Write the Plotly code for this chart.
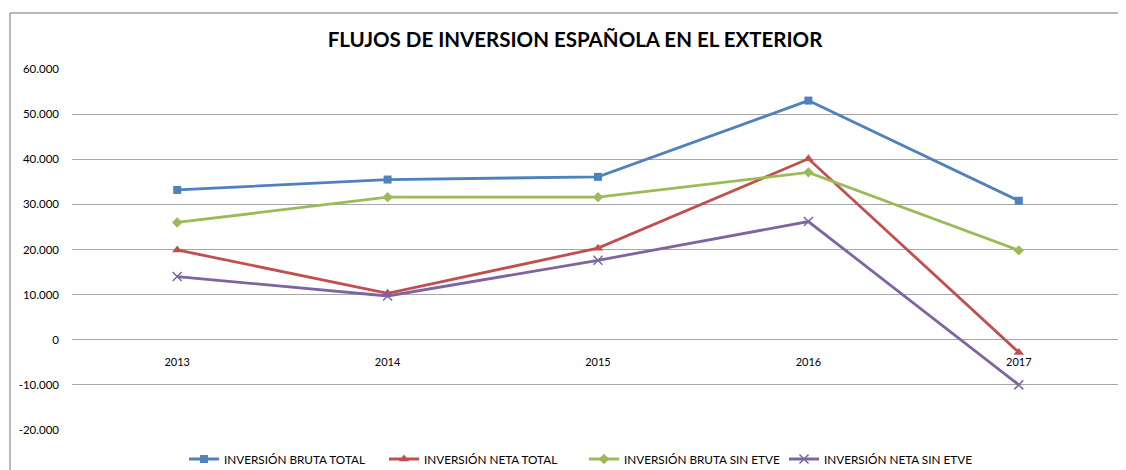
import plotly.graph_objects as go

years = ["2013", "2014", "2015", "2016", "2017"]
bruta_total = [33200, 35500, 36100, 53000, 30800]
neta_total = [19900, 10300, 20300, 40100, -2800]
bruta_sin_etve = [26000, 31600, 31600, 37100, 19800]
neta_sin_etve = [14000, 9700, 17600, 26200, -10000]

series_names = ["INVERSIÓN BRUTA TOTAL", "INVERSIÓN NETA TOTAL",
                "INVERSIÓN BRUTA SIN ETVE", "INVERSIÓN NETA SIN ETVE"]
y_tick_vals = [-20000, -10000, 0, 10000, 20000, 30000, 40000, 50000, 60000]
y_tick_text = ["-20.000", "-10.000", "0", "10.000", "20.000", "30.000",
               "40.000", "50.000", "60.000"]
title_text = "FLUJOS DE INVERSION ESPAÑOLA EN EL EXTERIOR"

colors = ["#4F81BD", "#C0504D", "#9BBB59", "#8064A2"]
symbols = ["square", "triangle-up", "diamond", "x-thin"]
sizes = [8, 9, 8, 9]
data = [bruta_total, neta_total, bruta_sin_etve, neta_sin_etve]

FONT = "Lato"
W, H = 1118, 462  # page body has an 8px margin
L, R, T, B = 64, 2, 61, 40
PW, PH = W - L - R, H - T - B

fig = go.Figure()
for name, vals, c, s, sz in zip(series_names, data, colors, symbols, sizes):
    fig.add_trace(go.Scatter(
        x=years, y=vals, name=name, mode="lines+markers",
        line=dict(color=c, width=2.8),
        marker=dict(symbol=s, size=sz, color=c,
                    line=dict(color=c, width=1.5 if s == "x-thin" else 0)),
    ))

border_x0 = (2 - L) / PW
border_y1 = 1 + 56 / PH
fig.update_layout(
    width=W, height=H,
    margin=dict(l=L, r=R, t=T, b=B, pad=0, autoexpand=False),
    paper_bgcolor="white", plot_bgcolor="white",
    font=dict(family=FONT, size=11, color="#000000"),
    title=dict(text="<b>" + title_text + "</b>", x=(567 - L) / PW, xref="paper",
               xanchor="center", y=1 - 32 / H, yref="container", yanchor="middle",
               font=dict(family=FONT, size=20.5, color="#000000")),
    showlegend=True,
    legend=dict(orientation="h", x=(176 - L) / PW, xanchor="left",
                y=-(451 - (H - B)) / PH, yanchor="middle",
                font=dict(family=FONT, size=11.75, color="#000000"),
                entrywidth=155, entrywidthmode="pixels",
                bgcolor="rgba(0,0,0,0)", traceorder="normal"),
    xaxis=dict(type="category", range=[-0.5, 4.5], anchor="free", position=0.25,
               showgrid=False, showline=False, zeroline=False, automargin=False,
               ticks="outside", ticklen=12, tickcolor="rgba(0,0,0,0)",
               tickfont=dict(family=FONT, size=11, color="#000000")),
    yaxis=dict(range=[-20000, 60000], tickvals=y_tick_vals, ticktext=y_tick_text,
               showgrid=True, gridcolor="#a6a6a6", gridwidth=1, automargin=False,
               zeroline=True, zerolinecolor="#a6a6a6", zerolinewidth=1,
               showline=False, ticklabelstandoff=12,
               tickfont=dict(family=FONT, size=11.5, color="#000000")),
    shapes=[
        dict(type="line", xref="paper", yref="paper",
             x0=border_x0, x1=1.1, y0=border_y1, y1=border_y1,
             line=dict(color="#a0a0a0", width=1.5), layer="below"),
        dict(type="line", xref="paper", yref="paper",
             x0=border_x0, x1=border_x0, y0=-0.3, y1=border_y1,
             line=dict(color="#a0a0a0", width=1.5), layer="below"),
    ],
)

fig.write_html("out.html")
